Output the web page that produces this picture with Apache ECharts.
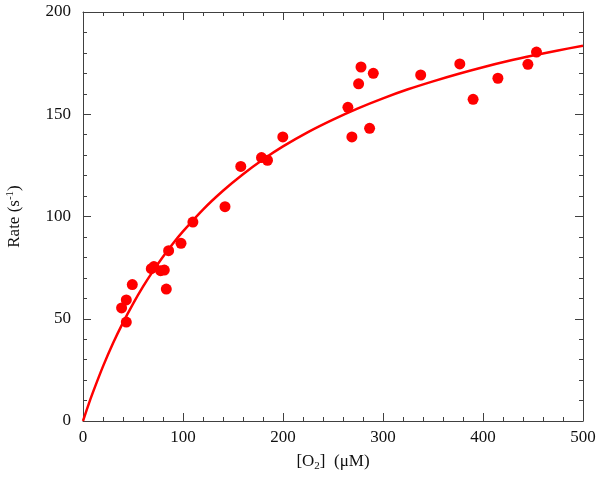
<!DOCTYPE html>
<html>
<head>
<meta charset="utf-8">
<script src="https://cdn.jsdelivr.net/npm/echarts@6/dist/echarts.min.js"></script>
<style>
html,body{margin:0;padding:0;background:#fff;}
#c{width:601px;height:481px;}
</style>
</head>
<body>
<div id="c"></div>
<script>
// Measured data points: O2 concentration (µM) and rate (s^-1)
var pointX = [38.6, 43.3, 43.3, 49.3, 68.3, 70.9, 77.6, 81.3, 83.3, 85.6, 98.0,
              109.9, 142.0, 157.8, 178.5, 184.5, 199.8,
              264.9, 268.9, 275.6, 278.0, 286.6, 290.3, 337.7, 376.8, 390.1, 414.9, 444.9, 453.5];
var pointY = [55.3, 59.2, 48.4, 66.7, 74.5, 75.5, 73.5, 73.8, 64.5, 83.3, 86.9,
              97.3, 104.8, 124.5, 128.8, 127.5, 138.9,
              153.4, 138.9, 164.9, 173.1, 143.1, 170.0, 169.2, 174.6, 157.3, 167.6, 174.4, 180.4];

// Fitted curve
var curveX = [0, 5, 10, 20, 30, 40, 50, 60, 70, 80, 90, 100, 120, 140, 160, 180, 200,
              225, 250, 275, 300, 325, 350, 375, 400, 425, 450, 475, 500];
var curveY = [0, 7.3, 14.1, 26.7, 38.0, 48.1, 57.3, 65.7, 73.3, 80.3, 86.8, 92.7, 103.4, 112.6, 120.7, 127.9, 134.3,
              141.3, 147.4, 152.9, 157.8, 162.2, 166.1, 169.7, 173.0, 176.0, 178.7, 181.2, 183.5];

var xTicks = {min: 0, max: 500, interval: 100};
var yTicks = {min: 0, max: 200, interval: 50};

var FONT = "'Liberation Serif', 'Times New Roman', serif";
var AXC = '#404040';

function pairs(xs, ys) { return xs.map(function (x, i) { return [x, ys[i]]; }); }

function axisBase(pos, showLabel, t, margin) {
  return {
    type: 'value', position: pos, min: t.min, max: t.max, interval: t.interval,
    axisLine: {show: true, onZero: false, lineStyle: {color: AXC, width: 1}},
    axisTick: {show: true, inside: true, length: 8, lineStyle: {color: AXC, width: 1}},
    minorTick: {show: true, splitNumber: 5, length: 4, lineStyle: {color: AXC, width: 1}},
    splitLine: {show: false},
    minorSplitLine: {show: false},
    axisLabel: {show: showLabel, fontFamily: FONT, fontSize: 17, color: '#111', margin: margin}
  };
}

var xb = axisBase('bottom', true, xTicks, 8);
xb.name = '[O{sub|2}]  (\u03bcM)';
xb.nameLocation = 'middle';
xb.nameGap = 30;
xb.nameTextStyle = {fontFamily: FONT, fontSize: 17, color: '#111', lineHeight: 20,
  rich: {sub: {fontFamily: FONT, fontSize: 11, color: '#111', verticalAlign: 'bottom', lineHeight: 20, padding: [10, 0, 0, 0]}}};
var xt = axisBase('top', false, xTicks, 8);

var yl = axisBase('left', true, yTicks, 12);
yl.name = 'Rate (s{sup|-1})';
yl.nameLocation = 'middle';
yl.nameGap = 58;
yl.nameTextStyle = {fontFamily: FONT, fontSize: 17, color: '#111', lineHeight: 20,
  rich: {sup: {fontFamily: FONT, fontSize: 11, color: '#111', verticalAlign: 'top', lineHeight: 20, padding: [0, 0, 9, 0]}}};
var yr = axisBase('right', false, yTicks, 8);

var chart = echarts.init(document.getElementById('c'), null, {renderer: 'canvas'});
chart.setOption({
  animation: false,
  backgroundColor: '#fff',
  grid: {left: 83, top: 12, width: 500, height: 409, containLabel: false, outerBoundsMode: 'none'},
  xAxis: [xb, xt],
  yAxis: [yl, yr],
  series: [
    {type: 'line', xAxisIndex: 0, yAxisIndex: 0, data: pairs(curveX, curveY),
     showSymbol: false, symbol: 'none', smooth: 0.3, z: 2,
     lineStyle: {color: '#ff0000', width: 2.5}},
    {type: 'scatter', xAxisIndex: 0, yAxisIndex: 0, data: pairs(pointX, pointY),
     symbol: 'circle', symbolSize: 11, z: 3,
     itemStyle: {color: '#ff0000', opacity: 1}}
  ]
});
</script>
</body>
</html>
